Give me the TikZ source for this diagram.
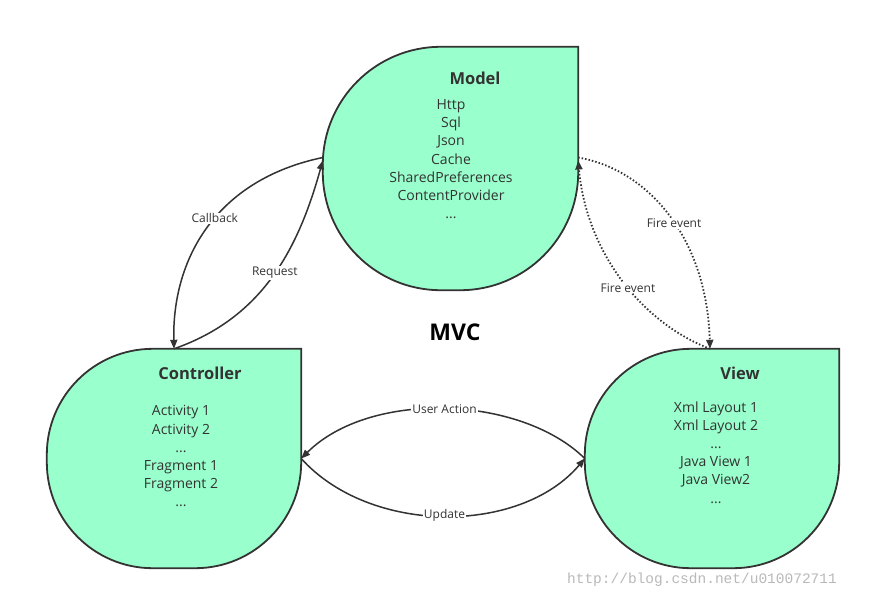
\documentclass[tikz,border=0pt]{standalone}
\usepackage{fontspec}
\setmainfont{Open Sans}
\newfontfamily\wmfont{Liberation Mono}
\usetikzlibrary{calc,arrows.meta}
\definecolor{mint}{RGB}{153,255,204}
\definecolor{ink}{RGB}{51,51,51}
\begin{document}
\begin{tikzpicture}[x=1pt,y=-1pt,
  box/.style={draw=none,inner sep=0pt},
  blob/.style={draw=ink,line width=1.8pt,fill=mint},
  title/.style={font=\bfseries\fontsize{16.5}{18}\selectfont,text=ink},
  body/.style={font=\fontsize{14}{18.2}\selectfont,text=ink,align=center},
  conn/.style={draw=ink,line width=1.5pt,-{Triangle[length=9pt,width=7pt]}},
  dconn/.style={conn,dotted,line width=1.8pt},
  lab/.style={fill=white,inner sep=1pt,font=\fontsize{12}{13}\selectfont,text=ink}]
\useasboundingbox (0,0) rectangle (871,600);
\fill[white] (0,0) rectangle (871,600);
\node[box,minimum width=255pt,minimum height=243pt] (model) at (450.5,168.5) {};
\node[box,minimum width=254pt,minimum height=219pt] (ctrl) at (174,458.5) {};
\node[box,minimum width=254pt,minimum height=219pt] (view) at (712,458.5) {};
\foreach \n/\r in {model/118pt,ctrl/106pt,view/106pt}{
  \draw[blob] (\n.north) -- (\n.north east) -- (\n.east) [rounded corners=\r] -- (\n.south east) -- (\n.south west) -- (\n.north west) -- (\n.north);
}
\node[title] (mt) at (475,78) {Model};
\node[body,anchor=north] (mb) at (451,96) {Http\\Sql\\Json\\Cache\\SharedPreferences\\ContentProvider\\...};
\node[title] (ct) at (200,373) {Controller};
\node[body,anchor=north] (cb) at (181,402) {Activity 1\\Activity 2\\...\\Fragment 1\\Fragment 2\\...};
\node[title] (vt) at (740,373) {View};
\node[body,anchor=north] (vb) at (716,398) {Xml Layout 1\\Xml Layout 2\\...\\Java View 1\\Java View2\\...};
\node[font=\bfseries\fontsize{23}{26}\selectfont] (mvc) at (455,332) {MVC};
\coordinate (mL1) at ($(model.west)+(0,-11)$);
\coordinate (mL2) at ($(model.west)+(0,-8)$);
\coordinate (mR1) at ($(model.east)+(0,-11)$);
\coordinate (mR2) at ($(model.east)+(0,-8)$);
\coordinate (vT) at ($(view.north)+(-2,0)$);
\draw[conn] (mL1) .. controls (215,180) and (172,260) .. (ctrl.north) node[lab,pos=0.45] {Callback};
\draw[conn] (ctrl.north) .. controls (262,318) and (298,250) .. (mL2) node[lab,pos=0.52] {Request};
\draw[dconn] (mR1) .. controls (650,170) and (707,240) .. (vT) node[lab,pos=0.53] {Fire event};
\draw[dconn] (vT) .. controls (640,322) and (586,250) .. (mR2) node[lab,pos=0.45] {Fire event};
\draw[conn] (view.west) .. controls (520,395) and (370,390) .. (ctrl.east) node[lab,pos=0.5] {User Action};
\draw[conn] (ctrl.east) .. controls (370,535) and (520,535) .. (view.west) node[lab,pos=0.5] {Update};
\node[text=gray!55,font=\wmfont\fontsize{14.5}{16}\selectfont] (wm) at (702,580) {http://blog.csdn.net/u010072711};
\end{tikzpicture}
\end{document}
